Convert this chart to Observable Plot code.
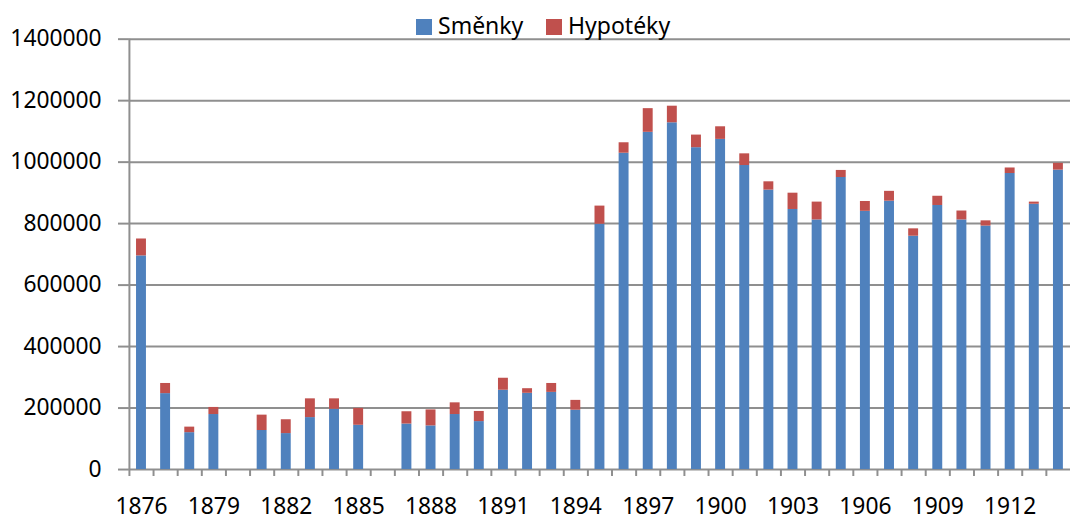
<!DOCTYPE html>
<html>
<head>
<meta charset="utf-8">
<script src="https://cdn.jsdelivr.net/npm/d3@7"></script>
<script src="https://cdn.jsdelivr.net/npm/@observablehq/plot@0.6"></script>
<style>
  html, body { margin: 0; padding: 0; background: #fff; overflow: hidden; }
  #wrap { position: relative; width: 1070px; height: 518px; overflow: hidden; font-family: "Noto Sans", sans-serif; }
  .lg-sw { position: absolute; top: 19px; width: 16px; height: 16px; }
  .lg-tx { position: absolute; top: 14px; font-size: 23px; line-height: 23px; color: #000; white-space: nowrap; }
</style>
</head>
<body>
<div id="wrap"></div>
<script>
// Years on the category axis (1880 and 1886 have no data)
const years = d3.range(1876, 1915);
const labelYears = years.filter(y => (y - 1876) % 3 === 0);
const seriesNames = ["Směnky", "Hypotéky"];
const seriesColors = ["#4F81BD", "#C0504D"];
const yTicks = [0, 200000, 400000, 600000, 800000, 1000000, 1200000, 1400000];

const dataYears = [1876, 1877, 1878, 1879, 1881, 1882, 1883, 1884, 1885, 1887, 1888, 1889, 1890, 1891, 1892, 1893, 1894, 1895, 1896, 1897, 1898, 1899, 1900, 1901, 1902, 1903, 1904, 1905, 1906, 1907, 1908, 1909, 1910, 1911, 1912, 1913, 1914];
const smenky = [695000, 247000, 120000, 179000, 127000, 117000, 169000, 196000, 144000, 148000, 142000, 179000, 156000, 258000, 248000, 251000, 193000, 798000, 1029000, 1097000, 1128000, 1047000, 1074000, 989000, 909000, 846000, 812000, 950000, 840000, 873000, 759000, 859000, 812000, 792000, 963000, 863000, 974000];
const hypoteky = [55000, 33000, 18000, 23000, 50000, 45000, 61000, 34000, 55000, 40000, 52000, 38000, 33000, 39000, 15000, 29000, 32000, 59000, 34000, 77000, 54000, 41000, 41000, 38000, 27000, 53000, 58000, 23000, 32000, 32000, 24000, 30000, 29000, 17000, 18000, 7000, 22000];

const rows = [];
dataYears.forEach((y, i) => rows.push({year: y, series: seriesNames[0], value: smenky[i]}));
dataYears.forEach((y, i) => rows.push({year: y, series: seriesNames[1], value: hypoteky[i]}));

const W = 1079, ML = 130, MR = 0;
const step = (W - ML - MR) / years.length;
const grid = "#8f8f8f";

const chart = Plot.plot({
  width: W,
  height: 518,
  marginLeft: ML,
  marginRight: MR,
  marginTop: 39,
  marginBottom: 45,
  style: {fontFamily: "Noto Sans, sans-serif", fontSize: "23px", color: "#000", background: "transparent", overflow: "visible"},
  x: {type: "band", domain: years, paddingInner: 0.589, paddingOuter: 0.2945, round: false, axis: null},
  y: {domain: [0, 1400000], axis: null},
  color: {domain: seriesNames, range: seriesColors},
  marks: [
    Plot.gridY(yTicks, {stroke: grid, strokeOpacity: 1, strokeWidth: 2}),
    Plot.ruleX([years[0]], {y1: 0, y2: 1400000, dx: -step / 2, stroke: grid, strokeWidth: 2}),
    Plot.axisY(yTicks, {tickSize: 11, tickPadding: 17, stroke: grid, strokeWidth: 2, tickFormat: d => String(d), fill: "#000", fontSize: 23, label: null}),
    Plot.axisX(years, {tickSize: 7, tickFormat: () => "", dx: -step / 2, stroke: grid, strokeWidth: 2, label: null}),
    Plot.axisX(labelYears, {tickSize: 0, tickPadding: 28, tickFormat: d => String(d), fill: "#000", fontSize: 23, label: null}),
    Plot.barY(rows, Plot.stackY({x: "year", y: "value", fill: "series"}))
  ]
});

const wrap = document.getElementById("wrap");
wrap.appendChild(chart);

const legendItems = [
  {name: seriesNames[0], color: seriesColors[0], sw: 416, tx: 438},
  {name: seriesNames[1], color: seriesColors[1], sw: 546, tx: 568}
];
for (const it of legendItems) {
  const s = document.createElement("div");
  s.className = "lg-sw"; s.style.left = it.sw + "px"; s.style.background = it.color;
  wrap.appendChild(s);
  const t = document.createElement("div");
  t.className = "lg-tx"; t.style.left = it.tx + "px"; t.textContent = it.name;
  wrap.appendChild(t);
}
</script>
</body>
</html>
